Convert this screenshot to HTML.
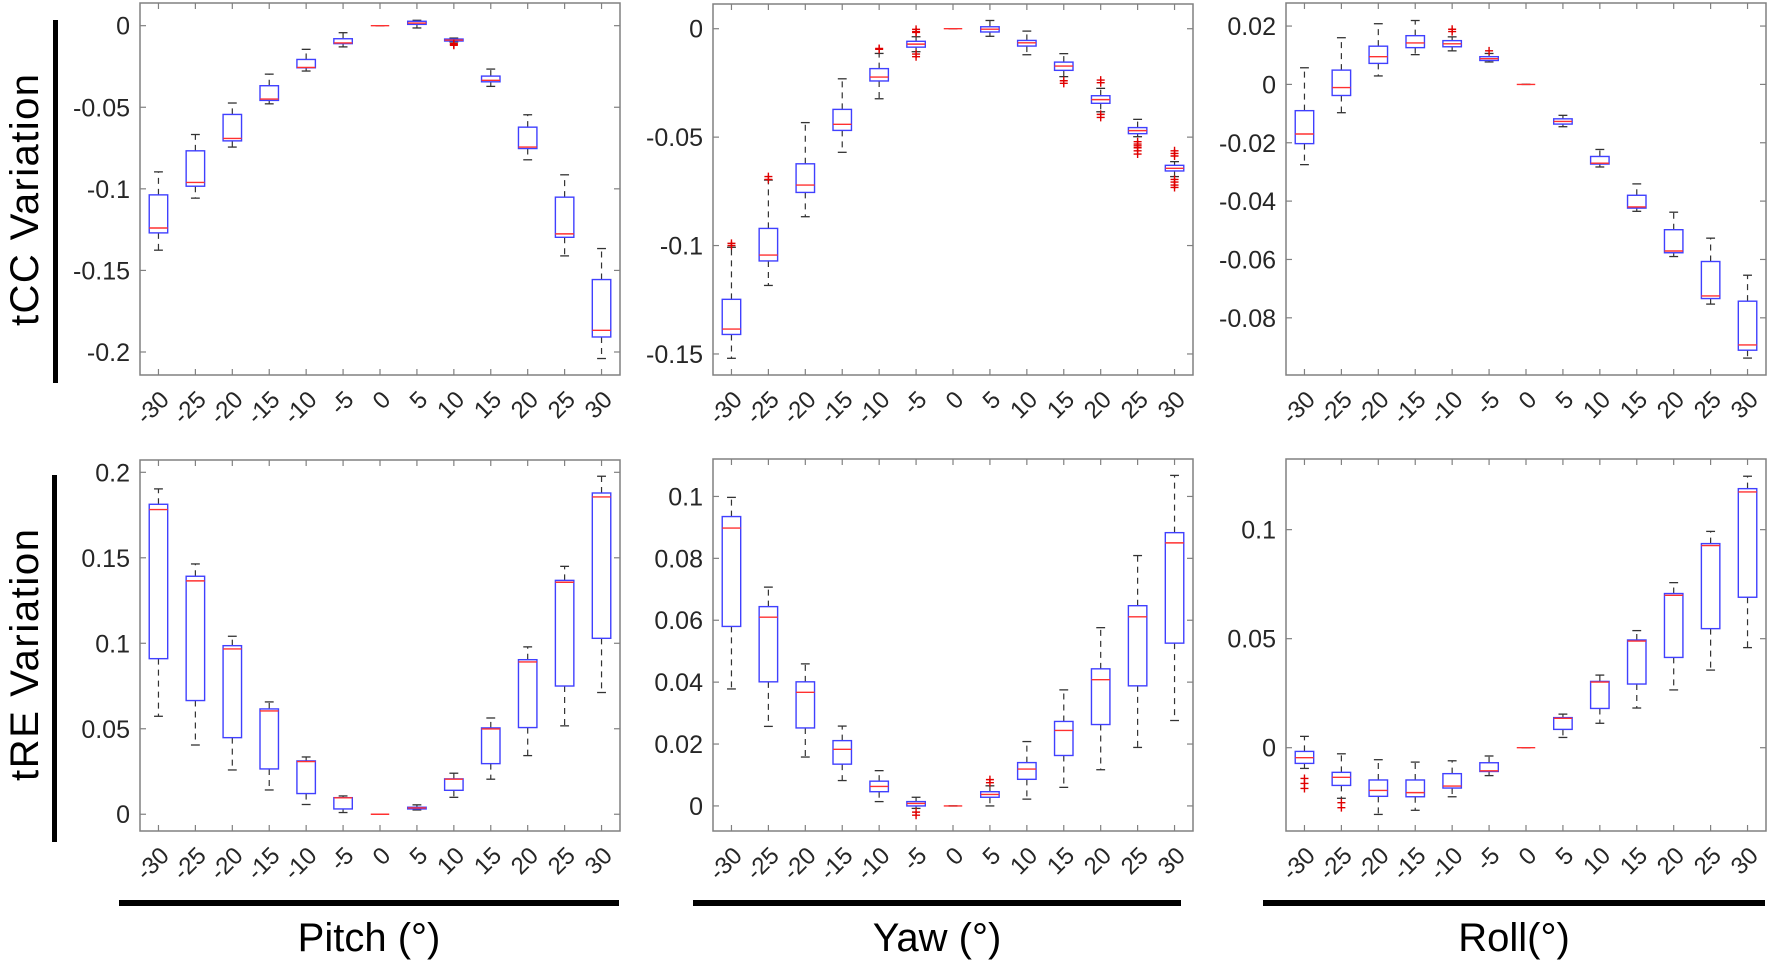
<!DOCTYPE html>
<html><head><meta charset="utf-8">
<style>
html,body{margin:0;padding:0;background:#fff;}
svg{display:block;font-family:"Liberation Sans",Arial,sans-serif;}
</style></head>
<body>
<svg id="fig" width="1772" height="966" viewBox="0 0 1772 966" xmlns="http://www.w3.org/2000/svg">
  <rect x="0" y="0" width="1772" height="966" fill="#fff"/>
  <g>
    <rect x="53" y="20" width="5" height="363" fill="#000"/>
    <text x="0" y="0" transform="translate(38,200) rotate(-90)" text-anchor="middle" font-size="40" textLength="252" fill="#000">tCC Variation</text>
  </g>
  <g>
    <rect x="52" y="475" width="5" height="367" fill="#000"/>
    <text x="0" y="0" transform="translate(38,655) rotate(-90)" text-anchor="middle" font-size="40" textLength="252" fill="#000">tRE Variation</text>
  </g>
  <g>
    <rect x="119" y="900" width="500" height="6" fill="#000"/>
    <text x="369" y="951" text-anchor="middle" font-size="40" fill="#000">Pitch (°)</text>
  </g>
  <g>
    <rect x="693" y="900" width="488" height="6" fill="#000"/>
    <text x="937" y="951" text-anchor="middle" font-size="40" fill="#000">Yaw (°)</text>
  </g>
  <g>
    <rect x="1263" y="900" width="502" height="6" fill="#000"/>
    <text x="1514" y="951" text-anchor="middle" font-size="40" fill="#000">Roll(°)</text>
  </g>
</svg>
<script>
// ---- data ----
const categories = ['-30','-25','-20','-15','-10','-5','0','5','10','15','20','25','30'];

// Pitch tCC
const pitchTccLow  = [-0.204,-0.1057,-0.0744,-0.0479,-0.0278,-0.013,0,-0.0014,-0.01,-0.0372,-0.0822,-0.1411,-0.204];
const pitchTccQ1   = [-0.127,-0.0984,-0.0706,-0.0458,-0.0258,-0.011,0,0.0008,-0.0094,-0.0344,-0.0753,-0.1297,-0.1908];
const pitchTccMed  = [-0.124,-0.0961,-0.0691,-0.045,-0.0256,-0.0106,0,0.0016,-0.0088,-0.0335,-0.0744,-0.1276,-0.1867];
const pitchTccQ3   = [-0.1037,-0.0767,-0.0544,-0.0368,-0.0207,-0.008,0,0.0027,-0.0082,-0.0309,-0.0622,-0.1051,-0.1556];
const pitchTccHigh = [-0.0896,-0.0667,-0.0474,-0.0297,-0.0145,-0.0043,0,0.0033,-0.0076,-0.0266,-0.0546,-0.0914,-0.1366];
pitchTccLow[0] = -0.1376;
const pitchTccOutCat = [8,8,8];
const pitchTccOutVal = [-0.011,-0.0115,-0.012];

// Yaw tCC
const yawTccLow  = [-0.152,-0.1184,-0.0867,-0.057,-0.0323,-0.0106,0,-0.0035,-0.012,-0.0221,-0.0383,-0.0498,-0.0682];
const yawTccQ1   = [-0.141,-0.1071,-0.0755,-0.0469,-0.0241,-0.0085,0,-0.0015,-0.008,-0.0192,-0.0344,-0.0484,-0.0656];
const yawTccMed  = [-0.1385,-0.1044,-0.0721,-0.0441,-0.0223,-0.0071,0,-0.0002,-0.0065,-0.0172,-0.0327,-0.047,-0.0644];
const yawTccQ3   = [-0.1248,-0.0921,-0.0623,-0.0372,-0.0184,-0.0058,0,0.0009,-0.0054,-0.0154,-0.0309,-0.0456,-0.063];
const yawTccHigh = [-0.1008,-0.0698,-0.0433,-0.0231,-0.0114,-0.0037,0,0.0038,-0.0011,-0.0115,-0.0275,-0.0418,-0.0613];
const yawTccOutCat = [0,0,1,1,4,4,5,5,5,5,5,9,9,10,10,10,10,11,11,11,11,11,11,12,12,12,12,12,12,12];
const yawTccOutVal = [-0.099,-0.1,-0.0682,-0.0695,-0.0091,-0.0095,-0.0003,-0.0014,-0.0017,-0.0117,-0.0129,-0.024,-0.0252,-0.0237,-0.0249,-0.0395,-0.0409,-0.0521,-0.0532,-0.054,-0.0549,-0.0563,-0.0578,-0.0563,-0.0575,-0.0587,-0.0695,-0.0707,-0.0721,-0.0732];

// Roll tCC
const rollTccLow  = [-0.0275,-0.0097,0.0029,0.0102,0.0115,0.0077,0,-0.0145,-0.0283,-0.0435,-0.059,-0.0753,-0.0938];
const rollTccQ1   = [-0.0203,-0.0038,0.0072,0.0126,0.0129,0.0082,0,-0.0136,-0.0273,-0.0424,-0.0577,-0.0734,-0.0911];
const rollTccMed  = [-0.017,-0.0011,0.0095,0.0142,0.0139,0.0088,0,-0.0127,-0.027,-0.042,-0.0571,-0.0725,-0.0893];
const rollTccQ3   = [-0.009,0.0049,0.0131,0.0167,0.015,0.0095,0,-0.0118,-0.0247,-0.038,-0.0498,-0.0607,-0.0743];
const rollTccHigh = [0.0057,0.016,0.0208,0.0219,0.0163,0.0106,0,-0.0106,-0.0223,-0.0341,-0.0438,-0.0527,-0.0654];
const rollTccOutCat = [4,4,5];
const rollTccOutVal = [0.0189,0.0181,0.0115];

// Pitch tRE
const pitchTreLow  = [0.0573,0.0405,0.0259,0.0142,0.0057,0.001,0,0.0025,0.0099,0.0205,0.0343,0.0517,0.0712];
const pitchTreQ1   = [0.091,0.0665,0.0448,0.0265,0.0121,0.0031,0,0.0031,0.014,0.0296,0.0507,0.075,0.1029];
const pitchTreMed  = [0.1782,0.1365,0.0967,0.0604,0.0308,0.0096,0,0.0037,0.0205,0.0499,0.0891,0.1357,0.1856];
const pitchTreQ3   = [0.1813,0.1392,0.0986,0.0616,0.0312,0.0097,0,0.0041,0.0207,0.0505,0.0904,0.1368,0.1879];
const pitchTreHigh = [0.1903,0.1464,0.1041,0.0657,0.0335,0.0107,0,0.0055,0.024,0.0563,0.0979,0.145,0.1977];
const pitchTreOutCat = [];
const pitchTreOutVal = [];

// Yaw tRE
const yawTreLow  = [0.0378,0.0257,0.0158,0.0082,0.0014,-0.0008,0,0,0.0022,0.006,0.0117,0.0189,0.0276];
const yawTreQ1   = [0.058,0.0401,0.0252,0.0135,0.0046,0,0,0.0028,0.0086,0.0163,0.0263,0.0388,0.0526];
const yawTreMed  = [0.0898,0.061,0.0367,0.0183,0.0063,0.0008,0,0.0037,0.0119,0.0244,0.0408,0.0611,0.085];
const yawTreQ3   = [0.0935,0.0644,0.0401,0.0211,0.008,0.0014,0,0.0046,0.014,0.0273,0.0443,0.0647,0.0883];
const yawTreHigh = [0.0997,0.0707,0.0459,0.0258,0.0114,0.0028,0,0.0065,0.0208,0.0375,0.0576,0.0809,0.1068];
const yawTreOutCat = [5,5,7,7];
const yawTreOutVal = [-0.002,-0.003,0.0075,0.0085];

// Roll tRE
const rollTreLow  = [-0.0095,-0.0232,-0.0306,-0.0287,-0.0225,-0.0128,0,0.0047,0.0112,0.0182,0.0265,0.0356,0.0459];
const rollTreQ1   = [-0.0072,-0.0173,-0.0223,-0.0225,-0.0185,-0.0109,0,0.0084,0.018,0.0292,0.0414,0.0546,0.069];
const rollTreMed  = [-0.0046,-0.0136,-0.0196,-0.0206,-0.0176,-0.0106,0,0.0135,0.0301,0.0489,0.0699,0.0927,0.1173];
const rollTreQ3   = [-0.0017,-0.0113,-0.0148,-0.0148,-0.0119,-0.0069,0,0.0138,0.0304,0.0494,0.0707,0.0936,0.1188];
const rollTreHigh = [0.0052,-0.0028,-0.0055,-0.0066,-0.006,-0.0038,0,0.0154,0.0333,0.0537,0.0757,0.0992,0.1245];
const rollTreOutCat = [0,0,0,1,1];
const rollTreOutVal = [-0.0141,-0.0164,-0.0187,-0.0252,-0.0275];

// tick labels
const tlTicks = [0,-0.05,-0.1,-0.15,-0.2];
const tlTickLabels = ['0','-0.05','-0.1','-0.15','-0.2'];
const tmTicks = [0,-0.05,-0.1,-0.15];
const tmTickLabels = ['0','-0.05','-0.1','-0.15'];
const trTicks = [0.02,0,-0.02,-0.04,-0.06,-0.08];
const trTickLabels = ['0.02','0','-0.02','-0.04','-0.06','-0.08'];
const blTicks = [0.2,0.15,0.1,0.05,0];
const blTickLabels = ['0.2','0.15','0.1','0.05','0'];
const bmTicks = [0.1,0.08,0.06,0.04,0.02,0];
const bmTickLabels = ['0.1','0.08','0.06','0.04','0.02','0'];
const brTicks = [0.1,0.05,0];
const brTickLabels = ['0.1','0.05','0'];

// ---- layout ----
const panels = [
  {name:'pitch-tcc', left:140, right:620, top:3, bottom:375, ymin:-0.2141, ymax:0.0139,
   low:pitchTccLow,q1:pitchTccQ1,med:pitchTccMed,q3:pitchTccQ3,high:pitchTccHigh,oc:pitchTccOutCat,ov:pitchTccOutVal,ticks:tlTicks,labels:tlTickLabels},
  {name:'yaw-tcc', left:713, right:1193, top:4, bottom:375, ymin:-0.1597, ymax:0.0114,
   low:yawTccLow,q1:yawTccQ1,med:yawTccMed,q3:yawTccQ3,high:yawTccHigh,oc:yawTccOutCat,ov:yawTccOutVal,ticks:tmTicks,labels:tmTickLabels},
  {name:'roll-tcc', left:1286, right:1766, top:3, bottom:375, ymin:-0.0996, ymax:0.0279,
   low:rollTccLow,q1:rollTccQ1,med:rollTccMed,q3:rollTccQ3,high:rollTccHigh,oc:rollTccOutCat,ov:rollTccOutVal,ticks:trTicks,labels:trTickLabels},
  {name:'pitch-tre', left:140, right:620, top:460, bottom:831, ymin:-0.0098, ymax:0.2072,
   low:pitchTreLow,q1:pitchTreQ1,med:pitchTreMed,q3:pitchTreQ3,high:pitchTreHigh,oc:pitchTreOutCat,ov:pitchTreOutVal,ticks:blTicks,labels:blTickLabels},
  {name:'yaw-tre', left:713, right:1193, top:459, bottom:831, ymin:-0.0081, ymax:0.1121,
   low:yawTreLow,q1:yawTreQ1,med:yawTreMed,q3:yawTreQ3,high:yawTreHigh,oc:yawTreOutCat,ov:yawTreOutVal,ticks:bmTicks,labels:bmTickLabels},
  {name:'roll-tre', left:1286, right:1766, top:459, bottom:831, ymin:-0.0382, ymax:0.1324,
   low:rollTreLow,q1:rollTreQ1,med:rollTreMed,q3:rollTreQ3,high:rollTreHigh,oc:rollTreOutCat,ov:rollTreOutVal,ticks:brTicks,labels:brTickLabels}
];

const NS='http://www.w3.org/2000/svg';
const svg=document.getElementById('fig');
function mk(tag, attrs, parent){
  const e=document.createElementNS(NS,tag);
  for(const k in attrs) e.setAttribute(k,attrs[k]);
  parent.appendChild(e);
  return e;
}

panels.forEach(p=>{
  const g=mk('g',{},svg);
  
  
  const n=categories.length;
  const bw=(p.right-p.left)/n;
  const xS=i=>p.left+(i+0.5)*bw;
  const yS=v=>p.bottom-(v-p.ymin)/(p.ymax-p.ymin)*(p.bottom-p.top);

  // frame
  const fr=mk('rect',{x:p.left,y:p.top,width:p.right-p.left,height:p.bottom-p.top,fill:'none',stroke:'#808080','stroke-width':1.5},g);
  
  

  // x ticks & labels
  categories.forEach((c,i)=>{
    const x=xS(i);
    mk('line',{x1:x,y1:p.bottom,x2:x,y2:p.bottom-6,stroke:'#808080','stroke-width':1.2},g);
    mk('line',{x1:x,y1:p.top,x2:x,y2:p.top+6,stroke:'#808080','stroke-width':1.2},g);
    const t=mk('text',{x:0,y:0,transform:`translate(${x+12},${p.bottom+26}) rotate(-45)`,'text-anchor':'end','font-size':24,fill:'#262626'},g);
    t.textContent=c;
    
    
  });
  // y ticks & labels
  p.ticks.forEach((v,k)=>{
    const y=yS(v);
    mk('line',{x1:p.left,y1:y,x2:p.left+6,y2:y,stroke:'#808080','stroke-width':1.2},g);
    mk('line',{x1:p.right,y1:y,x2:p.right-6,y2:y,stroke:'#808080','stroke-width':1.2},g);
    const t=mk('text',{x:p.left-10,y:y+9,'text-anchor':'end','font-size':25,fill:'#262626'},g);
    t.textContent=p.labels[k];
    
    
  });

  // boxes
  categories.forEach((c,i)=>{
    const bg=mk('g',{},g);
    
    
    const x=xS(i), hw=bw*0.25, cw=bw*0.12;
    const yl=yS(p.low[i]), y1=yS(p.q1[i]), ym=yS(p.med[i]), y3=yS(p.q3[i]), yh=yS(p.high[i]);
    mk('line',{x1:x,y1:y3,x2:x,y2:yh,stroke:'#333','stroke-width':1.2,'stroke-dasharray':'6,5'},bg);
    mk('line',{x1:x,y1:y1,x2:x,y2:yl,stroke:'#333','stroke-width':1.2,'stroke-dasharray':'6,5'},bg);
    mk('line',{x1:x-cw,y1:yh,x2:x+cw,y2:yh,stroke:'#333','stroke-width':1.3},bg);
    mk('line',{x1:x-cw,y1:yl,x2:x+cw,y2:yl,stroke:'#333','stroke-width':1.3},bg);
    if(Math.abs(y1-y3)>0.5){
      mk('rect',{x:x-hw,y:y3,width:2*hw,height:y1-y3,fill:'#fff',stroke:'#4040ff','stroke-width':1.4},bg);
    }
    mk('line',{x1:x-hw,y1:ym,x2:x+hw,y2:ym,stroke:'#ff3030','stroke-width':1.4},bg);
  });
  // outliers
  p.oc.forEach((ci,k)=>{
    const x=xS(ci), y=yS(p.ov[k]);
    const o=mk('path',{d:`M${x-4},${y}H${x+4}M${x},${y-4}V${y+4}`,stroke:'#e00000','stroke-width':1.4,fill:'none'},g);
    
    
  });
});
</script>
</body></html>
